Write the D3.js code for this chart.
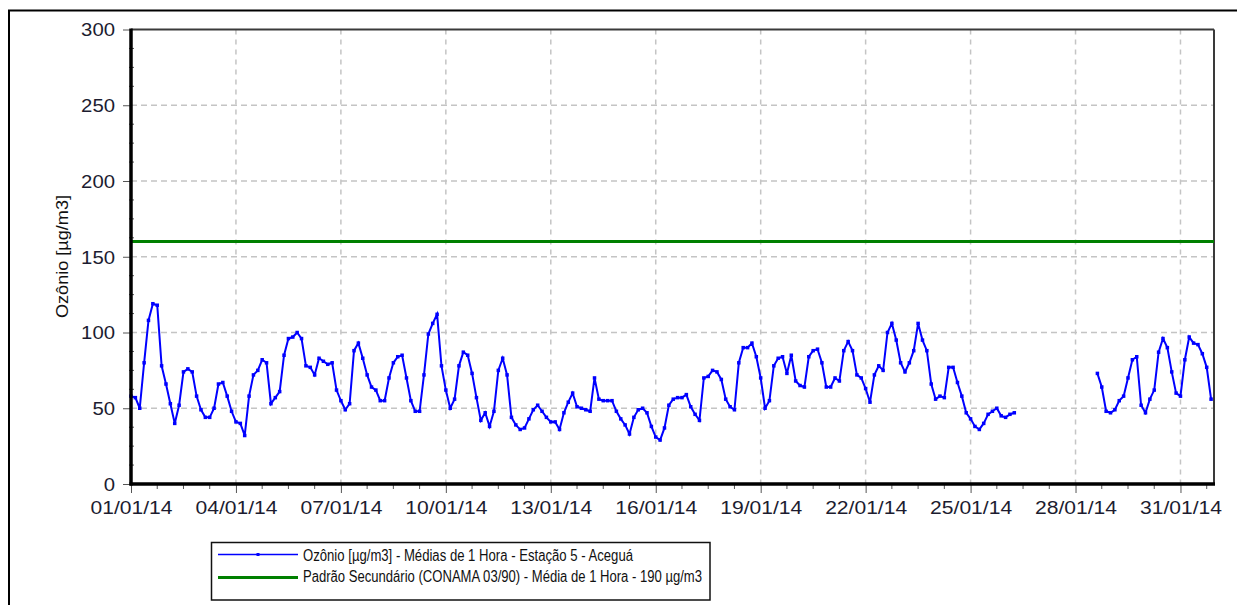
<!DOCTYPE html>
<html>
<head>
<meta charset="utf-8">
<script src="https://cdn.jsdelivr.net/npm/d3@7"></script>
<style>
body { margin: 0; background: #fff; }
svg { display: block; font-family: "Liberation Sans", Arial, sans-serif; }
</style>
</head>
<body>
<svg width="1237" height="605"></svg>
<script>
// ozone, every 3 hours from 01/01/14 00:00 (null = no data)
const stepHours = 3;
const ozone = [
  58, 57, 50, 80, 108, 119, 118, 78,
  66, 53, 40, 52, 74, 76, 74, 58,
  49, 44, 44, 50, 66, 67, 58, 48,
  41, 40, 32, 58, 72, 75, 82, 80,
  53, 57, 61, 85, 96, 97, 100, 96,
  78, 77, 72, 83, 81, 79, 80, 62,
  55, 49, 53, 88, 93, 83, 72, 64,
  62, 55, 55, 70, 80, 84, 85, 70,
  55, 48, 48, 72, 99, 106, 112, 78,
  62, 50, 56, 78, 87, 85, 73, 57,
  42, 47, 38, 48, 75, 83, 72, 44,
  39, 36, 37, 43, 49, 52, 48, 44,
  41, 41, 36, 47, 54, 60, 51, 50,
  49, 48, 70, 56, 55, 55, 55, 48,
  43, 39, 33, 44, 49, 50, 47, 38,
  31, 29, 37, 52, 56, 57, 57, 59,
  51, 46, 42, 70, 71, 75, 74, 69,
  56, 51, 49, 80, 90, 90, 93, 84,
  70, 50, 55, 78, 83, 84, 73, 85,
  68, 65, 64, 84, 88, 89, 80, 64,
  64, 70, 68, 88, 94, 88, 72, 70,
  63, 54, 72, 78, 75, 100, 106, 95,
  80, 74, 80, 88, 106, 95, 88, 66,
  56, 58, 57, 77, 77, 67, 58, 47,
  43, 38, 36, 40, 46, 48, 50, 45,
  44, 46, 47, null, null, null, null, null,
  null, null, null, null, null, null, null, null,
  null, null, null, null, null, 73, 64, 48,
  47, 49, 55, 58, 70, 82, 84, 52,
  47, 56, 62, 87, 96, 90, 74, 60,
  58, 82, 97, 93, 92, 86, 77, 56
];
const standardValue = 160;
const yTicks = [0, 50, 100, 150, 200, 250, 300];
const xTickLabels = ['01/01/14', '04/01/14', '07/01/14', '10/01/14', '13/01/14', '16/01/14',
  '19/01/14', '22/01/14', '25/01/14', '28/01/14', '31/01/14'];
const yTitle = 'Ozônio [µg/m3]';
const legendLabels = [
  'Ozônio [µg/m3] - Médias de 1 Hora - Estação 5 - Aceguá',
  'Padrão Secundário (CONAMA 03/90) - Média de 1 Hora - 190 µg/m3'
];

const parseDay = d3.timeParse('%d/%m/%y');
const start = new Date(2014, 0, 1, 0);
const end = new Date(2014, 0, 31, 23);
const points = ozone.map((v, i) => ({ t: d3.timeHour.offset(start, i * stepHours), v: v }));
const xDates = xTickLabels.map(parseDay);

const svg = d3.select('svg');
const plotLeft = 131, plotRight = 1214, plotTop = 29.5, plotBottom = 484;

const x = d3.scaleTime().domain([start, end]).range([plotLeft, plotRight]);
const y = d3.scaleLinear().domain([0, 300]).range([plotBottom, plotTop]);

// outer frame (only top/left edges are visible)
svg.append('rect')
  .attr('x', 9).attr('y', 10.5).attr('width', 1400).attr('height', 800)
  .attr('fill', 'none').attr('stroke', '#000').attr('stroke-width', 2);

// grid
svg.append('g').selectAll('line')
  .data(yTicks.filter(d => d > 0 && d < 300))
  .enter().append('line')
  .attr('x1', plotLeft).attr('x2', plotRight)
  .attr('y1', d => y(d)).attr('y2', d => y(d))
  .attr('stroke', '#c4c4c4').attr('stroke-width', 1.5).attr('stroke-dasharray', '6,4');

svg.append('g').selectAll('line')
  .data(xDates.slice(1))
  .enter().append('line')
  .attr('x1', d => x(d)).attr('x2', d => x(d))
  .attr('y1', plotTop).attr('y2', plotBottom)
  .attr('stroke', '#c4c4c4').attr('stroke-width', 1.5).attr('stroke-dasharray', '5,5');

// minor ticks
const yMinor = d3.range(12.5, 300, 12.5).filter(d => d % 50 !== 0);
svg.append('g').selectAll('line')
  .data(yMinor)
  .enter().append('line')
  .attr('x1', plotLeft - 2).attr('x2', plotLeft + 3)
  .attr('y1', d => y(d)).attr('y2', d => y(d))
  .attr('stroke', '#555');

const xMinor = d3.range(1, 42).map(i => d3.timeHour.offset(start, i * 18)).filter((d, i) => (i + 1) % 4 !== 0 && d <= end);
svg.append('g').selectAll('line')
  .data(xMinor)
  .enter().append('line')
  .attr('x1', d => x(d)).attr('x2', d => x(d))
  .attr('y1', plotBottom).attr('y2', plotBottom + 5)
  .attr('stroke', '#555');

// axes
const yAxis = svg.append('g')
  .attr('transform', `translate(${plotLeft},0)`)
  .call(d3.axisLeft(y).tickValues(yTicks).tickSize(8).tickPadding(8));
yAxis.select('.domain').remove();
yAxis.selectAll('line').attr('stroke', '#555');
yAxis.selectAll('text')
  .attr('font-size', 17.5).attr('fill', '#1c1c30').attr('font-family', '"Liberation Sans", Arial, sans-serif')
  .attr('dy', '0.36em')
  .attr('textLength', d => String(d).length * 11.3)
  .attr('lengthAdjust', 'spacingAndGlyphs');

const xAxis = svg.append('g')
  .attr('transform', `translate(0,${plotBottom})`)
  .call(d3.axisBottom(x).tickValues(xDates).tickSize(9).tickFormat((d, i) => xTickLabels[i]));
xAxis.select('.domain').remove();
xAxis.selectAll('line').attr('stroke', '#555');
xAxis.selectAll('text')
  .attr('font-size', 17.5).attr('fill', '#1c1c30').attr('font-family', '"Liberation Sans", Arial, sans-serif')
  .attr('y', 30).attr('dy', 0)
  .attr('textLength', 82)
  .attr('lengthAdjust', 'spacingAndGlyphs');

// plot frame
svg.append('line').attr('x1', plotLeft).attr('x2', plotRight).attr('y1', plotTop).attr('y2', plotTop)
  .attr('stroke', '#3a3a3a').attr('stroke-width', 2);
svg.append('line').attr('x1', plotRight).attr('x2', plotRight).attr('y1', plotTop).attr('y2', plotBottom)
  .attr('stroke', '#3a3a3a').attr('stroke-width', 2);

// standard line
svg.append('line')
  .attr('x1', plotLeft).attr('x2', plotRight)
  .attr('y1', y(standardValue)).attr('y2', y(standardValue))
  .attr('stroke', '#008000').attr('stroke-width', 3);

// ozone series
const line = d3.line()
  .defined(d => d.v !== null)
  .x(d => x(d.t))
  .y(d => y(d.v));

svg.append('path')
  .datum(points)
  .attr('d', line)
  .attr('fill', 'none')
  .attr('stroke', '#0000ff')
  .attr('stroke-width', 2);

svg.append('g').selectAll('rect')
  .data(points.filter(d => d.v !== null))
  .enter().append('rect')
  .attr('x', d => x(d.t) - 1.75).attr('y', d => y(d.v) - 1.75)
  .attr('width', 3.5).attr('height', 3.5)
  .attr('fill', '#0000ff');

// main axis lines
svg.append('line').attr('x1', plotLeft).attr('x2', plotLeft).attr('y1', plotTop - 1).attr('y2', plotBottom + 1.5)
  .attr('stroke', '#000').attr('stroke-width', 3.5);
svg.append('line').attr('x1', plotLeft - 1.5).attr('x2', plotRight + 1).attr('y1', plotBottom).attr('y2', plotBottom)
  .attr('stroke', '#000').attr('stroke-width', 3.5);

// y title
svg.append('text')
  .attr('transform', 'translate(67.5,256.5) rotate(-90)')
  .attr('text-anchor', 'middle')
  .attr('font-size', 17)
  .attr('fill', '#111')
  .attr('textLength', 123)
  .attr('lengthAdjust', 'spacingAndGlyphs')
  .text(yTitle);

// legend
const legend = svg.append('g');
legend.append('rect')
  .attr('x', 211.5).attr('y', 542.5).attr('width', 498.5).attr('height', 57.5)
  .attr('fill', '#fff').attr('stroke', '#111').attr('stroke-width', 1.5);

legend.append('line').attr('x1', 218).attr('x2', 298).attr('y1', 554.5).attr('y2', 554.5)
  .attr('stroke', '#0000ff').attr('stroke-width', 1.3);
legend.append('rect').attr('x', 256.5).attr('y', 553).attr('width', 3).attr('height', 3).attr('fill', '#0000ff');
legend.append('line').attr('x1', 218).attr('x2', 298).attr('y1', 577.5).attr('y2', 577.5)
  .attr('stroke', '#008000').attr('stroke-width', 3);

legend.selectAll('text')
  .data(legendLabels)
  .enter().append('text')
  .attr('x', 303)
  .attr('y', (d, i) => i === 0 ? 560.5 : 582)
  .attr('font-size', 16)
  .attr('fill', '#111')
  .attr('textLength', (d, i) => i === 0 ? 330 : 399)
  .attr('lengthAdjust', 'spacingAndGlyphs')
  .text(d => d);
</script>
</body>
</html>
